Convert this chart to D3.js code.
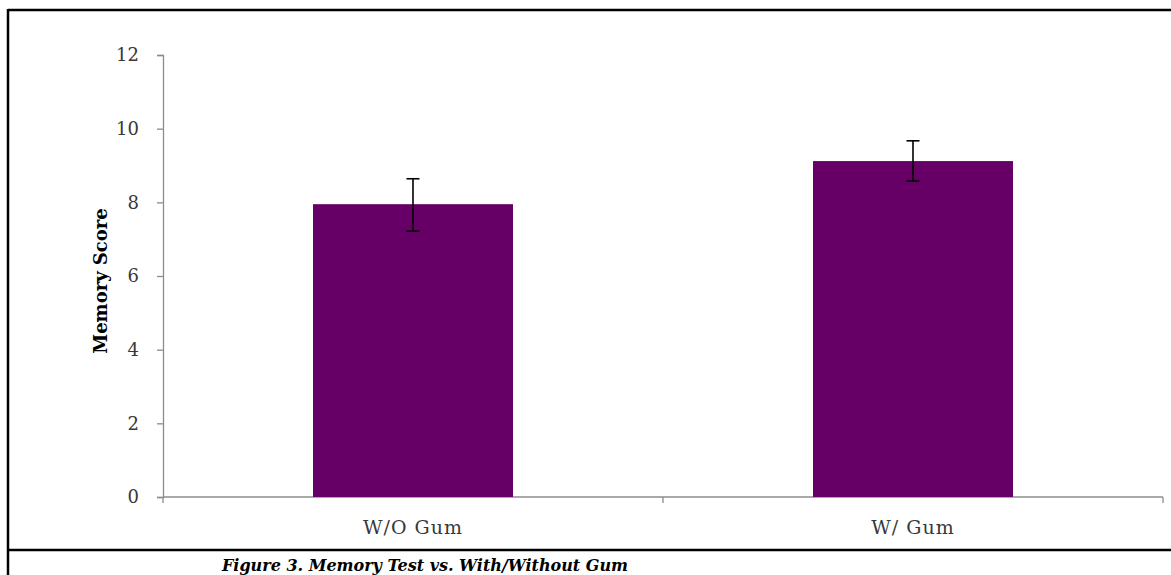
<!DOCTYPE html>
<html>
<head>
<meta charset="utf-8">
<script src="https://cdn.jsdelivr.net/npm/d3@7"></script>
<style>
  html, body { margin: 0; padding: 0; background: #fff; }
  svg { display: block; }
</style>
</head>
<body>
<svg id="chart" width="1171" height="575"></svg>
<script>
const categories = ["W/O Gum", "W/ Gum"];
const scores = [7.95, 9.12];
const errLow = [7.22, 8.58];
const errHigh = [8.64, 9.67];
const yTicks = [0, 2, 4, 6, 8, 10, 12];
const yLabel = "Memory Score";
const caption = "Figure 3. Memory Test vs. With/Without Gum";

(function () {
const svg = d3.select("#chart");
const W = 1171, H = 575;
const mLeft = 163, mRight = 1163, mTop = 55, mBottom = 497;

// outer frame (table cell look)
svg.append("line").attr("x1", 8).attr("x2", W).attr("y1", 10).attr("y2", 10)
  .attr("stroke", "#000").attr("stroke-width", 2.5);
svg.append("line").attr("x1", 8).attr("x2", 8).attr("y1", 9).attr("y2", H)
  .attr("stroke", "#000").attr("stroke-width", 2.5);
svg.append("line").attr("x1", 8).attr("x2", W).attr("y1", 550).attr("y2", 550)
  .attr("stroke", "#000").attr("stroke-width", 2.5);

const x = d3.scaleBand().domain(categories).range([mLeft, mRight])
  .paddingInner(0.6).paddingOuter(0.3);
const y = d3.scaleLinear().domain([0, 12]).range([mBottom, mTop]);

const axisColor = "#8c8c8c";
const font = "'DejaVu Serif', 'Liberation Serif', serif";

// y axis
const yAxis = d3.axisLeft(y).tickValues(yTicks).tickSize(6).tickPadding(18);
const gy = svg.append("g").attr("transform", `translate(${mLeft},0)`).call(yAxis);
gy.select(".domain").attr("stroke", axisColor).attr("stroke-width", 1.3);
gy.selectAll(".tick line").attr("stroke", axisColor).attr("stroke-width", 1.3);
gy.selectAll(".tick text").attr("font-family", font).attr("font-size", 18)
  .attr("fill", "#383838");

// x axis: boundary ticks
const boundaries = d3.range(categories.length + 1).map(i => mLeft + i * x.step());
const gx = svg.append("g");
gx.append("line").attr("x1", mLeft).attr("x2", mRight).attr("y1", mBottom).attr("y2", mBottom)
  .attr("stroke", axisColor).attr("stroke-width", 1.3);
gx.selectAll("line.bt").data(boundaries).enter().append("line").attr("class", "bt")
  .attr("x1", d => d).attr("x2", d => d).attr("y1", mBottom).attr("y2", mBottom + 6)
  .attr("stroke", axisColor).attr("stroke-width", 1.3);
gx.selectAll("text").data(categories).enter().append("text")
  .attr("x", d => x(d) + x.bandwidth() / 2).attr("y", 534)
  .attr("text-anchor", "middle").attr("font-family", font).attr("font-size", 19)
  .attr("letter-spacing", 1)
  .attr("fill", "#383838").text(d => d);

// bars
svg.selectAll("rect.bar").data(categories).enter().append("rect").attr("class", "bar")
  .attr("x", d => x(d)).attr("width", x.bandwidth())
  .attr("y", (d, i) => y(scores[i])).attr("height", (d, i) => mBottom - y(scores[i]))
  .attr("fill", "#660066");

// error bars
const eb = svg.selectAll("g.err").data(categories).enter().append("g").attr("class", "err");
eb.append("line").attr("x1", d => x(d) + x.bandwidth() / 2).attr("x2", d => x(d) + x.bandwidth() / 2)
  .attr("y1", (d, i) => y(errLow[i])).attr("y2", (d, i) => y(errHigh[i]))
  .attr("stroke", "#000").attr("stroke-width", 1.6);
[errLow, errHigh].forEach(arr => {
  eb.append("line").attr("x1", d => x(d) + x.bandwidth() / 2 - 6.5)
    .attr("x2", d => x(d) + x.bandwidth() / 2 + 6.5)
    .attr("y1", (d, i) => y(arr[i])).attr("y2", (d, i) => y(arr[i]))
    .attr("stroke", "#000").attr("stroke-width", 1.6);
});

// y label
svg.append("text").attr("transform", `translate(107,281) rotate(-90)`)
  .attr("text-anchor", "middle").attr("font-family", font).attr("font-weight", "bold")
  .attr("font-size", 18).attr("fill", "#000").text(yLabel);

// caption
svg.append("text").attr("x", 425).attr("y", 571).attr("text-anchor", "middle")
  .attr("font-family", "'DejaVu Serif', serif").attr("font-weight", "bold").attr("font-style", "italic")
  .attr("font-size", 16).attr("fill", "#000").text(caption);
})();
</script>
</body>
</html>
